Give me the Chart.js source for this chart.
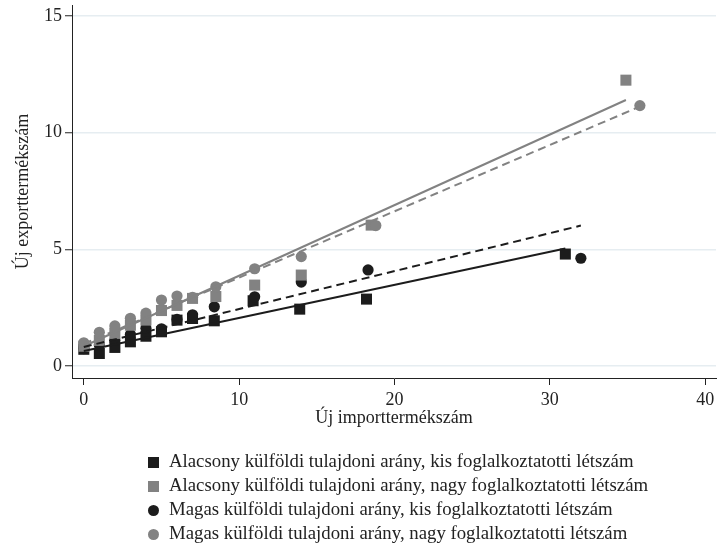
<!DOCTYPE html>
<html lang="hu">
<head>
<meta charset="utf-8">
<script src="https://cdn.jsdelivr.net/npm/chart.js@4"></script>
<style>
  html, body { margin: 0; padding: 0; background: #fff; }
  #wrap { position: relative; width: 718px; height: 548px; }
  #chart { position: absolute; left: 0; top: 0; }
  #legend {
    position: absolute; left: 148px; top: 449px;
    font-family: "Liberation Serif", "Times New Roman", serif;
    font-size: 18.8px; color: #222;
  }
  .row { height: 24px; line-height: 24px; white-space: nowrap; }
  .mk { display: inline-block; width: 11px; height: 11px; margin-right: 10px; vertical-align: -1px; }
  .sq { border-radius: 0; }
  .ci { border-radius: 50%; }
</style>
</head>
<body>
<div id="wrap">
  <canvas id="chart" width="718" height="548"></canvas>
  <div id="legend"></div>
</div>
<script>
// Group averages: new import products (x) vs new export products (y)
const seriesNames = [
  'Alacsony külföldi tulajdoni arány, kis foglalkoztatotti létszám',
  'Alacsony külföldi tulajdoni arány, nagy foglalkoztatotti létszám',
  'Magas külföldi tulajdoni arány, kis foglalkoztatotti létszám',
  'Magas külföldi tulajdoni arány, nagy foglalkoztatotti létszám'
];

const lowSmallX  = [0, 1, 2, 3, 4, 5, 6, 7, 8.4, 10.9, 13.9, 18.2, 31.0];
const lowSmallY  = [0.72, 0.54, 0.8, 1.04, 1.28, 1.47, 1.97, 2.04, 1.94, 2.8, 2.44, 2.87, 4.8];

const lowLargeX  = [0, 1, 2, 3, 4, 5, 6, 7, 8.5, 11, 14, 18.5, 34.9];
const lowLargeY  = [0.85, 1.1, 1.4, 1.75, 1.97, 2.38, 2.6, 2.9, 2.98, 3.47, 3.9, 6.04, 12.25];

const highSmallX = [0, 1, 2, 3, 4, 5, 6, 7, 8.4, 11, 14, 18.3, 32.0];
const highSmallY = [0.75, 0.9, 1.1, 1.35, 1.62, 1.6, 2.0, 2.2, 2.54, 2.97, 3.6, 4.12, 4.62];

const highLargeX = [0, 1, 2, 3, 4, 5, 6, 7, 8.5, 11, 14, 18.8, 35.8];
const highLargeY = [1.0, 1.45, 1.72, 2.05, 2.27, 2.83, 3.0, 2.95, 3.4, 4.17, 4.69, 6.02, 11.16];

// Fitted lines: start and end points [x0, y0, x1, y1]
const fitLowSmall  = [0, 0.65, 31.0, 5.04];
const fitLowLarge  = [0, 0.85, 34.9, 11.4];
const fitHighSmall = [0, 0.82, 32.0, 6.02];
const fitHighLarge = [0, 0.95, 35.8, 11.12];

const yTicks = [0, 5, 10, 15];
const xTicks = [0, 10, 20, 30, 40];

const BLACK = '#1c1c1c';
const GRAY = '#828282';
const TEXT = '#222';
const FONT = '"Liberation Serif", "Times New Roman", serif';

const pts = (xs, ys) => xs.map((x, i) => ({ x, y: ys[i] }));
const seg = f => [{ x: f[0], y: f[1] }, { x: f[2], y: f[3] }];

const lineDs = (f, color, dash) => ({
  data: seg(f), showLine: true, borderColor: color, borderWidth: 2,
  borderDash: dash, pointRadius: 0, fill: false
});
const markDs = (xs, ys, color, style) => ({
  data: pts(xs, ys), pointStyle: style, backgroundColor: color, borderColor: color,
  borderWidth: 0, pointRadius: style === 'rect' ? 7.8 : 5.6, showLine: false
});

// first dataset in the list is painted last (on top)
const datasets = [
  lineDs(fitLowSmall, BLACK, []),
  lineDs(fitHighSmall, BLACK, [8, 5]),
  lineDs(fitLowLarge, GRAY, []),
  lineDs(fitHighLarge, GRAY, [8, 5]),
  markDs(highLargeX, highLargeY, GRAY, 'circle'),
  markDs(lowLargeX, lowLargeY, GRAY, 'rect'),
  markDs(highSmallX, highSmallY, BLACK, 'circle'),
  markDs(lowSmallX, lowSmallY, BLACK, 'rect')
];

// let end tick labels overhang the plot edges instead of shrinking the plot
const noEdgePadding = s => { s.getPadding = () => ({ left: 0, top: 0, right: 0, bottom: 0 }); };

new Chart(document.getElementById('chart'), {
  type: 'scatter',
  data: { datasets },
  options: {
    responsive: false,
    animation: false,
    layout: { autoPadding: false, padding: { left: 0, top: 5, right: 2, bottom: 110 } },
    plugins: { legend: { display: false }, tooltip: { enabled: false } },
    scales: {
      x: {
        type: 'linear', min: -0.76, max: 40.7,
        afterBuildTicks: s => { s.ticks = xTicks.map(v => ({ value: v })); },
        afterFit: s => { s.height = 60; noEdgePadding(s); },
        ticks: { includeBounds: false, color: TEXT, padding: 4, font: { family: FONT, size: 18 } },
        grid: { drawOnChartArea: false, drawTicks: true, tickLength: 7, tickColor: TEXT, tickWidth: 1 },
        border: { display: true, color: TEXT, width: 1 },
        title: { display: true, text: 'Új importtermékszám', color: TEXT,
                 font: { family: FONT, size: 18 }, padding: { top: 0, bottom: 9 } }
      },
      y: {
        type: 'linear', min: -0.51, max: 15.47,
        afterBuildTicks: s => { s.ticks = yTicks.map(v => ({ value: v })); },
        afterFit: s => { s.width = 72; noEdgePadding(s); },
        ticks: { includeBounds: false, color: TEXT, padding: 3, font: { family: FONT, size: 18 } },
        grid: { drawOnChartArea: true, color: '#e6edf1', lineWidth: 1.5,
                drawTicks: true, tickLength: 7, tickColor: TEXT, tickWidth: 1 },
        border: { display: true, color: TEXT, width: 1 },
        title: { display: true, text: 'Új exporttermékszám', color: TEXT,
                 font: { family: FONT, size: 18 }, padding: { top: 12, bottom: 0 } }
      }
    }
  }
});

// Legend: one entry per group, markers in the group's colour and shape
const legendStyles = [
  { color: BLACK, cls: 'sq' },
  { color: GRAY, cls: 'sq' },
  { color: BLACK, cls: 'ci' },
  { color: GRAY, cls: 'ci' }
];
const legend = document.getElementById('legend');
seriesNames.forEach((name, i) => {
  const row = document.createElement('div');
  row.className = 'row';
  const mk = document.createElement('span');
  mk.className = 'mk ' + legendStyles[i].cls;
  mk.style.background = legendStyles[i].color;
  row.appendChild(mk);
  row.appendChild(document.createTextNode(name));
  legend.appendChild(row);
});
</script>
</body>
</html>
